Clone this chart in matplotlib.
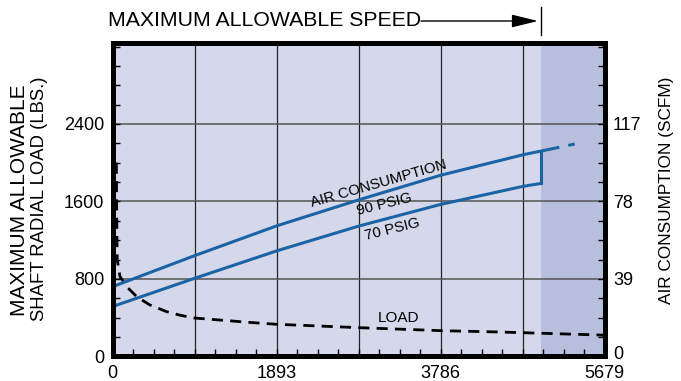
import numpy as np
from matplotlib import pyplot as plt
from matplotlib import transforms as mtrans
from matplotlib.ticker import MultipleLocator

plt.rcParams["font.family"] = ["Liberation Sans", "DejaVu Sans"]

# speed axis (rpm) and data
x_ticks = [0, 1893, 3786, 5679]
load_ticks = [0, 800, 1600, 2400]
scfm_ticks = [0, 39, 78, 117]

# air consumption, SCFM
air_speed = [0, 946, 1893, 2841, 3786, 4736, 4948]
air_90 = [35.1, 50.7, 65.7, 78.8, 91.2, 101.5, 103.4]
air_70 = [25.1, 39.3, 53.1, 65.6, 76.5, 85.6, 87.1]
air_90_ext_speed = [4948, 5332]
air_90_ext = [103.4, 106.9]

# max allowable radial load, lbs
load_speed = [42, 46, 52, 84, 161, 277, 430, 623, 776, 938, 1584, 1888,
              2841, 3786, 4467, 4733, 5621, 5679]
load_lbs = [2000, 1500, 1000, 824, 720, 616, 530, 461, 425, 396, 350, 331,
            296, 265, 251, 244, 220, 218]

max_speed = 4948

blue = "#1a63a5"
bg = "#d5d8ea"
shade = "#b8bfdc"

fig = plt.figure(figsize=(6.81, 3.81), dpi=100)
ax = fig.add_axes([0.1655, 0.0648, 0.7225, 0.8232])
ax2 = ax.twinx()

ymax = 3240
ax.set_xlim(0, 5679)
ax.set_ylim(0, ymax)
ax2.set_ylim(0, ymax * 39 / 800)

ax.set_facecolor(bg)
ax.axvspan(max_speed, 5679, color=shade, zorder=0, lw=0)

for gx in np.arange(1, 6) * 5679 / 6:
    ax.axvline(gx, color="#222222", lw=0.9, zorder=1)
for gy in [800, 1600, 2400]:
    ax.axhline(gy, color="#555555", lw=1.1, zorder=1)

# load curve
ax.plot(load_speed, load_lbs, color="black", lw=2.0, ls=(0, (4, 2.6)), zorder=3)

# air consumption curves
ax2.plot(air_speed, air_90, color=blue, lw=2.2, solid_capstyle="butt")
ax2.plot(air_speed, air_70, color=blue, lw=2.2, solid_capstyle="butt")
ax2.plot([max_speed, max_speed], [air_70[-1], air_90[-1]], color=blue, lw=2.2)
ax2.plot(air_90_ext_speed, air_90_ext, color=blue, lw=2.2, ls=(0, (6, 3)))

ax.set_xticks(x_ticks)
ax.set_yticks(load_ticks)
ax2.set_yticks(scfm_ticks)
ax.xaxis.set_minor_locator(MultipleLocator(5679 / 24))
ax.yaxis.set_minor_locator(MultipleLocator(200))
ax2.yaxis.set_minor_locator(MultipleLocator(39 / 4))

for a in (ax, ax2):
    a.tick_params(which="both", direction="in", length=5, width=1,
                  labelsize=13, pad=6, color="black")
    for s in a.spines.values():
        s.set_linewidth(3.6)
ax.tick_params(which="both", top=False, right=False)
ax2.tick_params(which="both", left=False)

# lift the right-hand "0" a little so it clears "5679"
lbl0 = ax2.get_yticklabels()[0]
lbl0.set_transform(lbl0.get_transform()
                   + mtrans.ScaledTranslation(0, 3 / 72, fig.dpi_scale_trans))

# axis titles
fig.text(20 / 681, 1 - 200 / 381, "MAXIMUM ALLOWABLE", fontsize=15,
         rotation=90, ha="center", va="center")
fig.text(40 / 681, 1 - 199 / 381, "SHAFT RADIAL LOAD (LBS.)", fontsize=13.3,
         rotation=90, ha="center", va="center")
fig.text(667 / 681, 1 - 190 / 381, "AIR CONSUMPTION (SCFM)", fontsize=12.4,
         rotation=90, ha="center", va="center")

ax.text(3072, 1780, "AIR CONSUMPTION", fontsize=10.7, rotation=16,
        ha="center", va="center", zorder=4)
ax.text(3130, 1566, "90 PSIG", fontsize=10.7, rotation=14,
        ha="center", va="center", zorder=4)
ax.text(3222, 1307, "70 PSIG", fontsize=10.7, rotation=14,
        ha="center", va="center", zorder=4)
ax.text(3303, 396, "LOAD", fontsize=11, ha="center", va="center", zorder=4)

# max allowable speed marker above the plot
fig.text(108 / 681, 1 - 21 / 381, "MAXIMUM ALLOWABLE SPEED", fontsize=15.3,
         ha="left", va="center")
fig.add_artist(plt.Line2D([541 / 681, 541 / 681], [1 - 7 / 381, 1 - 35 / 381],
                          color="black", lw=1))
ax.annotate("", xy=(538 / 681, 1 - 21 / 381), xytext=(421 / 681, 1 - 21 / 381),
            xycoords="figure fraction", textcoords="figure fraction",
            arrowprops=dict(arrowstyle="-|>,head_length=0.9,head_width=0.22",
                            color="black", lw=1, mutation_scale=18,
                            shrinkA=0, shrinkB=0))

fig.savefig("out.png", dpi=100)
